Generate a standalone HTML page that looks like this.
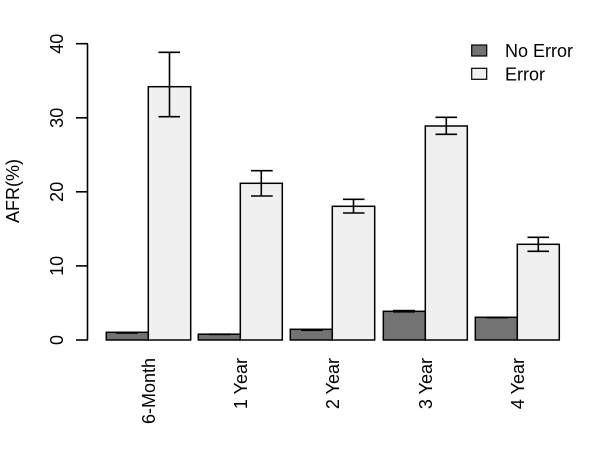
<!DOCTYPE html>
<html>
<head>
<meta charset="utf-8">
<style>
html,body{margin:0;padding:0;background:#fff;}
svg{display:block;}
text{font-family:"Liberation Sans",Arial,sans-serif;font-size:18px;fill:#000;}
</style>
</head>
<body>
<svg width="600" height="450" viewBox="0 0 600 450" xmlns="http://www.w3.org/2000/svg">
<rect x="0" y="0" width="600" height="450" fill="#fff"/>
<!-- y axis -->
<g stroke="#000" stroke-width="1.6" fill="none">
<line x1="87.5" y1="43.7" x2="87.5" y2="340"/>
<line x1="76" y1="43.7" x2="88" y2="43.7"/>
<line x1="76" y1="117.8" x2="88" y2="117.8"/>
<line x1="76" y1="191.8" x2="88" y2="191.8"/>
<line x1="76" y1="265.9" x2="88" y2="265.9"/>
<line x1="76" y1="340" x2="88" y2="340"/>
</g>
<g text-anchor="middle">
<text transform="translate(63,43.7) rotate(-90)">40</text>
<text transform="translate(63,117.8) rotate(-90)">30</text>
<text transform="translate(63,191.8) rotate(-90)">20</text>
<text transform="translate(63,265.9) rotate(-90)">10</text>
<text transform="translate(63,340) rotate(-90)">0</text>
<text transform="translate(19,191) rotate(-90)">AFR(%)</text>
</g>
<!-- bars -->
<g stroke="#000" stroke-width="1.5">
<rect x="106.3" y="332.3" width="42" height="7.7" fill="#737373"/>
<rect x="148.3" y="86.7" width="42.4" height="253.3" fill="#f0f0f0"/>
<rect x="198.3" y="334.2" width="42" height="5.8" fill="#737373"/>
<rect x="240.3" y="183.3" width="42" height="156.7" fill="#f0f0f0"/>
<rect x="290.3" y="329.3" width="42" height="10.7" fill="#737373"/>
<rect x="332.3" y="206.3" width="42.4" height="133.7" fill="#f0f0f0"/>
<rect x="383.3" y="311.3" width="42" height="28.7" fill="#737373"/>
<rect x="425.3" y="126" width="42" height="214" fill="#f0f0f0"/>
<rect x="475.3" y="317.3" width="42" height="22.7" fill="#737373"/>
<rect x="517.3" y="244.3" width="42" height="95.7" fill="#f0f0f0"/>
</g>
<!-- error bars -->
<g stroke="#000" stroke-width="1.6" fill="none">
<line x1="169.5" y1="52.3" x2="169.5" y2="116.7"/>
<line x1="158.5" y1="52.3" x2="180" y2="52.3"/>
<line x1="158.5" y1="116.7" x2="180" y2="116.7"/>
<line x1="261.3" y1="170.7" x2="261.3" y2="196"/>
<line x1="251" y1="170.7" x2="272.7" y2="170.7"/>
<line x1="251" y1="196" x2="272.7" y2="196"/>
<line x1="353.5" y1="199.3" x2="353.5" y2="213"/>
<line x1="343" y1="199.3" x2="364.5" y2="199.3"/>
<line x1="343" y1="213" x2="364.5" y2="213"/>
<line x1="446.3" y1="117.3" x2="446.3" y2="134.3"/>
<line x1="435.5" y1="117.3" x2="457" y2="117.3"/>
<line x1="435.5" y1="134.3" x2="457" y2="134.3"/>
<line x1="538.3" y1="237.3" x2="538.3" y2="251.3"/>
<line x1="527.5" y1="237.3" x2="549" y2="237.3"/>
<line x1="527.5" y1="251.3" x2="549" y2="251.3"/>
</g>
<g fill="#000">
<rect x="116" y="331.6" width="21.7" height="2.2"/>
<rect x="209" y="333.4" width="21.7" height="1.8"/>
<rect x="301" y="329.3" width="21.7" height="1.8"/>
<rect x="393" y="309.8" width="22" height="2.8"/>
<rect x="486" y="316.6" width="21.7" height="1.8"/>
</g>
<!-- x labels -->
<g text-anchor="end">
<text transform="translate(155,358) rotate(-90)">6-Month</text>
<text transform="translate(247,358) rotate(-90)">1 Year</text>
<text transform="translate(339,358) rotate(-90)">2 Year</text>
<text transform="translate(432,358) rotate(-90)">3 Year</text>
<text transform="translate(524,358) rotate(-90)">4 Year</text>
</g>
<!-- legend -->
<g stroke="#000" stroke-width="1.2">
<rect x="471.7" y="45" width="15" height="11" fill="#737373"/>
<rect x="471.7" y="68.3" width="15" height="11" fill="#f0f0f0"/>
</g>
<text x="505" y="57">No Error</text>
<text x="505" y="80.7">Error</text>
</svg>
</body>
</html>
